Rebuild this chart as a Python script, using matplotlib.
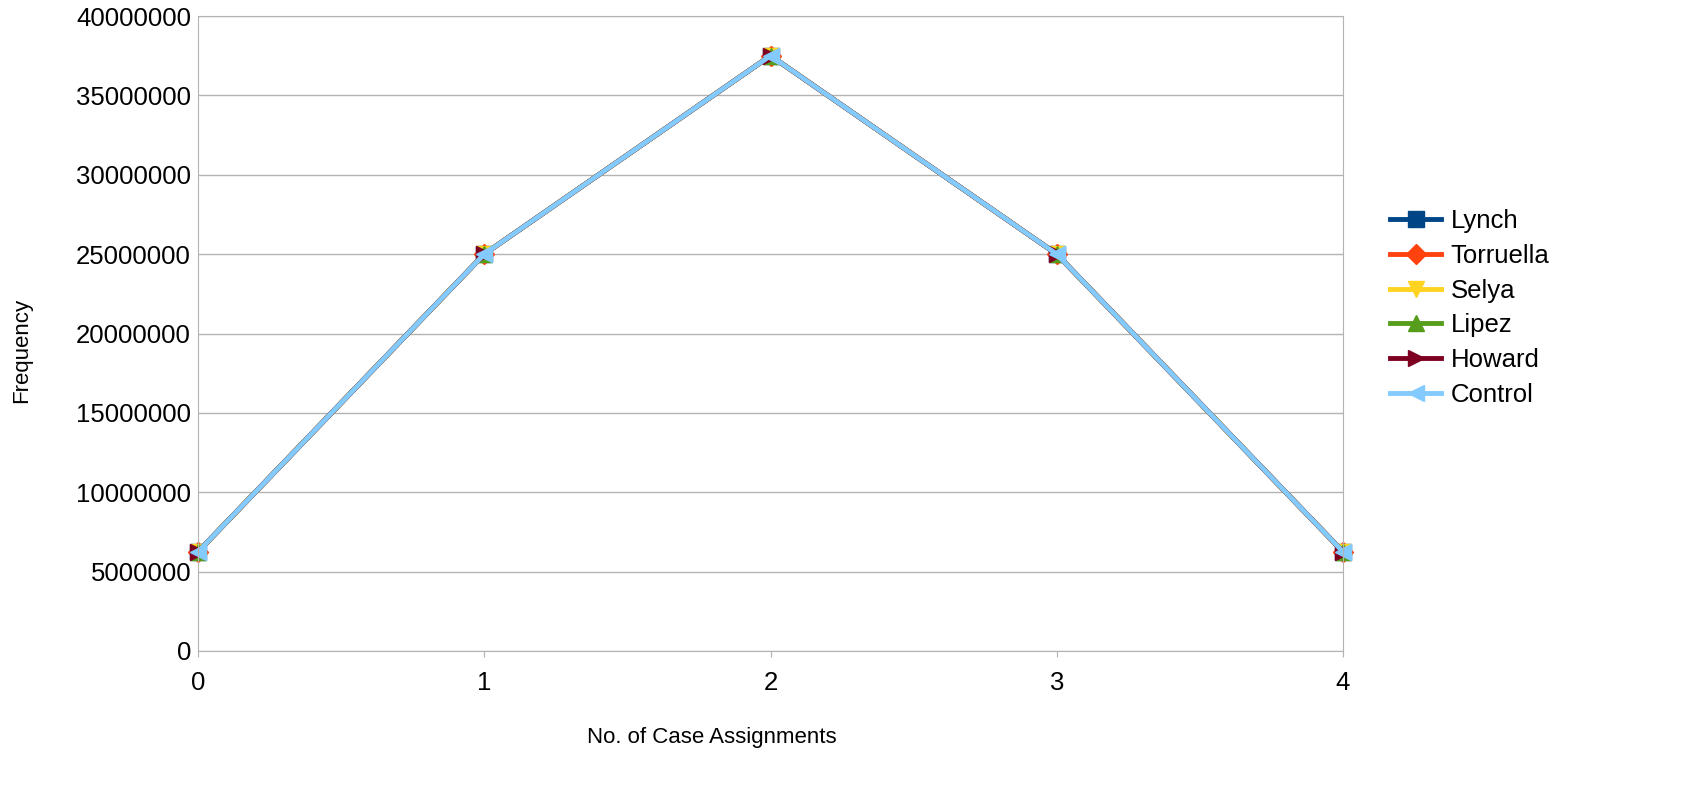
import numpy as np
import matplotlib.pyplot as plt

plt.rcParams['font.family'] = ['Liberation Sans', 'DejaVu Sans']

assignments = [0, 1, 2, 3, 4]
lynch = [6250000, 25000000, 37500000, 25000000, 6250000]
torruella = [6250000, 25000000, 37500000, 25000000, 6250000]
selya = [6250000, 25000000, 37500000, 25000000, 6250000]
lipez = [6250000, 25000000, 37500000, 25000000, 6250000]
howard = [6250000, 25000000, 37500000, 25000000, 6250000]
control = [6250000, 25000000, 37500000, 25000000, 6250000]
yticks = [0, 5000000, 10000000, 15000000, 20000000, 25000000,
          30000000, 35000000, 40000000]

series = [
    ('Lynch', lynch, '#004586', 's'),
    ('Torruella', torruella, '#ff420e', 'D'),
    ('Selya', selya, '#ffd320', 'v'),
    ('Lipez', lipez, '#579d1c', '^'),
    ('Howard', howard, '#7e0021', '>'),
    ('Control', control, '#83caff', '<'),
]

fig = plt.figure(figsize=(16.88, 8.09), dpi=100)
ax = fig.add_axes([198/1688, 1-651/809, (1343-198)/1688, (651-16)/809])

for name, vals, col, mk in series:
    ms = 10 if mk == 'D' else 12
    ax.plot(assignments, vals, color=col, marker=mk, markersize=ms,
            linewidth=3.5, label=name, clip_on=False)

ax.set_xlim(0, 4)
ax.set_ylim(0, 40000000)
ax.set_xticks(assignments)
ax.set_yticks(yticks)
ax.set_yticklabels([str(v) for v in yticks])
ax.grid(axis='y', color='#b3b3b3', linewidth=1)
ax.set_axisbelow(True)
for s in ax.spines.values():
    s.set_color('#b3b3b3')
ax.tick_params(axis='both', colors='#b3b3b3', labelcolor='black',
               labelsize=18.5)
ax.tick_params(axis='x', length=4.5, pad=10)
ax.tick_params(axis='y', length=0, pad=5)

fig.text(712/1688, 1-737/809, 'No. of Case Assignments', fontsize=16,
         ha='center', va='center')
fig.text(22/1688, 1-350/809, 'Frequency', fontsize=16, rotation=90,
         ha='center', va='center')

ax.legend(loc='center left', bbox_to_anchor=(1390/1688, 1-308/809),
          bbox_transform=fig.transFigure, frameon=False, fontsize=18.5,
          handlelength=2.0, handletextpad=0.35, labelspacing=0.42,
          borderpad=0, borderaxespad=0)

fig.savefig('out.png', dpi=100)
